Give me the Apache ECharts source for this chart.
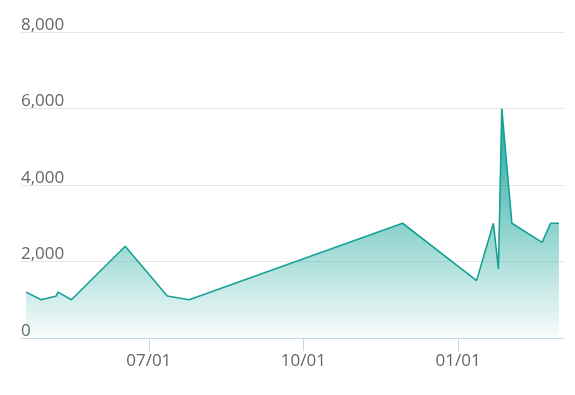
<!DOCTYPE html>
<html>
<head>
<meta charset="utf-8">
<script src="https://cdn.jsdelivr.net/npm/echarts@6/dist/echarts.min.js"></script>
<style>html,body{margin:0;padding:0;background:#fff}#c{width:575px;height:395px}</style>
</head>
<body>
<div id="c"></div>
<script>
var dates = ['2022-04-19','2022-04-28','2022-05-07','2022-05-08','2022-05-16','2022-06-17','2022-07-12','2022-07-25','2022-11-29','2023-01-12','2023-01-22','2023-01-25','2023-01-27','2023-02-02','2023-02-20','2023-02-25','2023-03-02'];
var values = [1200,1000,1100,1200,1000,2400,1100,1000,3000,1500,3000,1800,6000,3000,2500,3000,3000];
var yTicks = [0,2000,4000,6000,8000];

var chart = echarts.init(document.getElementById('c'), null, {renderer:'canvas'});
var data = dates.map(function(d,i){return [d, values[i]];});
var font = 'Open Sans';
chart.setOption({
  animation:false,
  grid:{left:21,right:11,top:32,bottom:57,containLabel:false},
  xAxis:{
    type:'time',
    min:'2022-04-16', max:'2023-03-05',
    splitNumber:3,
    minInterval: 80*86400000,
    maxInterval: 100*86400000,
    axisLine:{lineStyle:{color:'#ccd6eb',width:1}},
    axisTick:{show:true,length:13,lineStyle:{color:'#ccd6eb'}},
    splitLine:{show:false},
    axisLabel:{formatter:'{MM}/{dd}',color:'#666',fontSize:17,fontFamily:font,margin:15,showMinLabel:false,showMaxLabel:false,hideOverlap:false}
  },
  yAxis:{
    type:'value',min:yTicks[0],max:yTicks[yTicks.length-1],interval:2000,
    axisLine:{show:false},axisTick:{show:false},
    splitLine:{lineStyle:{color:'#e6e6e6',width:1}},
    axisLabel:{inside:true,margin:0,verticalAlign:'bottom',lineHeight:14,padding:[0,0,0,0],color:'#666',fontSize:17,fontFamily:font,
      formatter:function(v){return v.toLocaleString('en-US');}}
  },
  series:[{
    type:'line',data:data,showSymbol:false,symbol:'none',
    lineStyle:{color:'#17a196',width:1.6},
    itemStyle:{color:'#17a196'},
    areaStyle:{opacity:1,color:new echarts.graphic.LinearGradient(0,0,0,1,[{offset:0,color:'rgba(26,165,154,1)'},{offset:1,color:'rgba(26,165,154,0.03)'}])}
  }]
});
</script>
</body>
</html>
